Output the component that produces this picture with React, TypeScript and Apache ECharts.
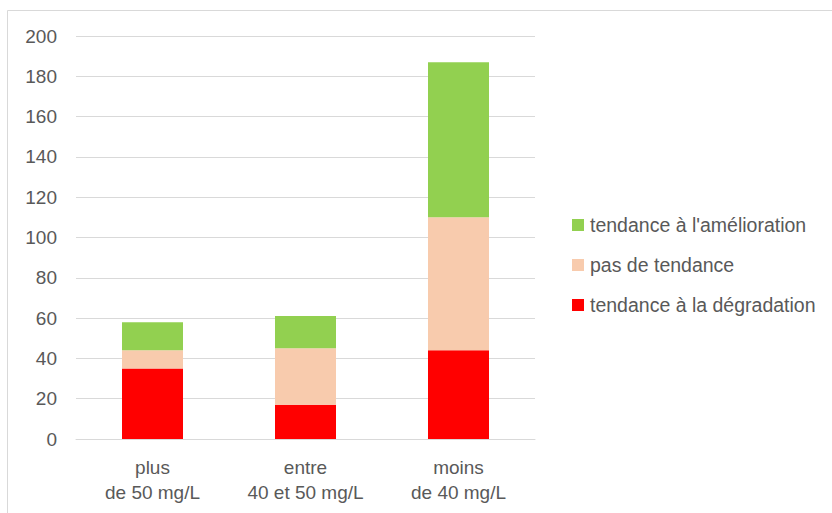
import React, { useEffect, useRef } from "react";
import * as echarts from "echarts";

const categories = ["plus\nde 50 mg/L", "entre\n40 et 50 mg/L", "moins\nde 40 mg/L"];
const degradation = [35, 17, 44];
const noTrend = [9, 28, 66];
const improvement = [14, 16, 77];
const seriesNames = ["tendance à la dégradation", "pas de tendance", "tendance à l'amélioration"];
const legendOrder = ["tendance à l'amélioration", "pas de tendance", "tendance à la dégradation"];

const FONT = "'Liberation Sans', Arial, sans-serif";
const TEXT = "#595959";

export default function App() {
  const ref = useRef<HTMLDivElement>(null);
  useEffect(() => {
    if (!ref.current) return;
    const chart = echarts.init(ref.current, null, { renderer: "svg" });
    chart.setOption({
      animation: false,
      backgroundColor: "#ffffff",
      textStyle: { fontFamily: FONT },
      graphic: [
        {
          type: "rect",
          shape: { x: 7.5, y: 10.5, width: 840, height: 520 },
          style: { fill: "none", stroke: "#d9d9d9", lineWidth: 1 },
          silent: true,
        },
      ],
      grid: { left: 76, right: 297, top: 36, bottom: 74, containLabel: false },
      legend: {
        orient: "vertical",
        left: 567,
        top: 210,
        padding: 5,
        itemWidth: 12,
        itemHeight: 12,
        itemGap: 20,
        icon: "rect",
        data: legendOrder,
        textStyle: {
          fontFamily: FONT,
          fontSize: 19.5,
          lineHeight: 20,
          color: TEXT,
          padding: [0, 0, 0, 1],
        },
      },
      xAxis: {
        type: "category",
        data: categories,
        axisTick: { show: false },
        axisLine: { show: true, lineStyle: { color: "#d9d9d9", width: 1 } },
        axisLabel: {
          fontFamily: FONT,
          fontSize: 19,
          color: TEXT,
          lineHeight: 25,
          margin: 16,
          interval: 0,
        },
      },
      yAxis: {
        type: "value",
        min: 0,
        max: 200,
        interval: 20,
        axisLine: { show: false },
        axisTick: { show: false },
        splitLine: { lineStyle: { color: "#d9d9d9", width: 1 } },
        axisLabel: { fontFamily: FONT, fontSize: 19, color: TEXT, margin: 19 },
      },
      series: [
        {
          name: seriesNames[0],
          type: "bar",
          stack: "total",
          data: degradation,
          barWidth: 61,
          itemStyle: { color: "#FF0000" },
        },
        {
          name: seriesNames[1],
          type: "bar",
          stack: "total",
          data: noTrend,
          barWidth: 61,
          itemStyle: { color: "#F8CBAD" },
        },
        {
          name: seriesNames[2],
          type: "bar",
          stack: "total",
          data: improvement,
          barWidth: 61,
          itemStyle: { color: "#92D050" },
        },
      ],
    });
    return () => chart.dispose();
  }, []);
  return (
    <div
      ref={ref}
      style={{ position: "fixed", left: 0, top: 0, width: 832, height: 513 }}
    />
  );
}
